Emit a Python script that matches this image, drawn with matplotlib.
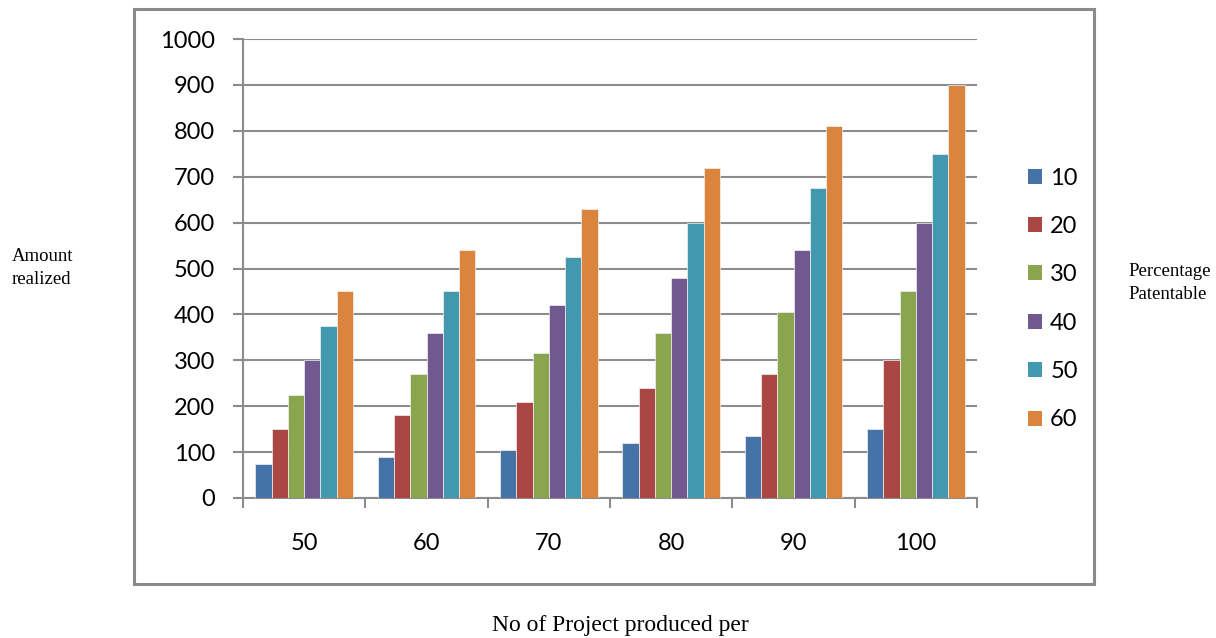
import numpy as np
import matplotlib.pyplot as plt
from matplotlib.patches import Rectangle

# projects produced (x categories) and amount realized per percentage patentable
projects = ["50", "60", "70", "80", "90", "100"]
pct_labels = ["10", "20", "30", "40", "50", "60"]
amount_10 = [75, 90, 105, 120, 135, 150]
amount_20 = [150, 180, 210, 240, 270, 300]
amount_30 = [225, 270, 315, 360, 405, 450]
amount_40 = [300, 360, 420, 480, 540, 600]
amount_50 = [375, 450, 525, 600, 675, 750]
amount_60 = [450, 540, 630, 720, 810, 900]
series = [amount_10, amount_20, amount_30, amount_40, amount_50, amount_60]
colors = ["#4572A7", "#AA4643", "#89A54E", "#71588F", "#4198AF", "#DB843D"]

tick_font = "Lato"
serif = "Liberation Serif"
grid_col = "#8c8c8c"

fig = plt.figure(figsize=(12.16, 6.38), dpi=100)
ax = fig.add_axes([243 / 1216, 1 - 498 / 638, (977 - 243) / 1216, (498 - 39) / 638])

# outer frame around the chart area
fig.patches.append(Rectangle((134 / 1216, 1 - 584 / 638), (1094 - 134) / 1216, (584 - 9) / 638,
                             transform=fig.transFigure, fill=False, edgecolor="#8a8a8a",
                             linewidth=2.2, zorder=0))

x = np.arange(len(projects))
w = 0.8 / len(series)
for i, (vals, col, lab) in enumerate(zip(series, colors, pct_labels)):
    ax.bar(x - 0.4 + w * (i + 0.5), vals, width=w, color=col, edgecolor="#f2f2f2",
           linewidth=0.5, label=lab, zorder=3)

ax.set_xlim(-0.5, len(projects) - 0.5)
ax.set_ylim(0, 1000)
ax.set_yticks(np.arange(0, 1001, 100))
ax.yaxis.grid(True, color=grid_col, linewidth=1.5, zorder=0)
ax.set_axisbelow(True)

for s in ["top", "right"]:
    ax.spines[s].set_visible(False)
for s in ["left", "bottom"]:
    ax.spines[s].set_color(grid_col)
    ax.spines[s].set_linewidth(1.5)

ax.tick_params(axis="y", length=7, width=1.5, color=grid_col, pad=13, labelsize=17)
# group boundaries get tick marks, group centers get the labels
ax.set_xticks(np.arange(-0.5, len(projects)))
ax.set_xticklabels([])
ax.set_xticks(x, minor=True)
ax.set_xticklabels(projects, minor=True)
ax.tick_params(axis="x", which="major", length=7, width=1.5, color=grid_col)
ax.tick_params(axis="x", which="minor", length=0, pad=25, labelsize=17)
for t in ax.get_xticklabels(minor=True) + ax.get_yticklabels():
    t.set_fontfamily(tick_font)

leg = ax.legend(loc="center left", bbox_to_anchor=(1016 / 1216, 1 - 299 / 638),
                bbox_transform=fig.transFigure, frameon=False, borderpad=0,
                handlelength=0.6, handleheight=0.6, handletextpad=0.35,
                labelspacing=1.16, prop={"family": tick_font, "size": 17})
for p in leg.get_patches():
    p.set_edgecolor("none")

fig.text(12 / 1216, 1 - 268 / 638, "Amount\nrealized", family=serif, fontsize=13.5,
         ha="left", va="center", linespacing=1.4)
fig.text(1128 / 1216, 1 - 283 / 638, "Percentage\nPatentable", family=serif, fontsize=13.5,
         ha="left", va="center", linespacing=1.4)
fig.text(620 / 1216, 1 - 626 / 638, "No of Project produced per", family=serif,
         fontsize=17, ha="center", va="center")

fig.savefig("out.png", dpi=100)
